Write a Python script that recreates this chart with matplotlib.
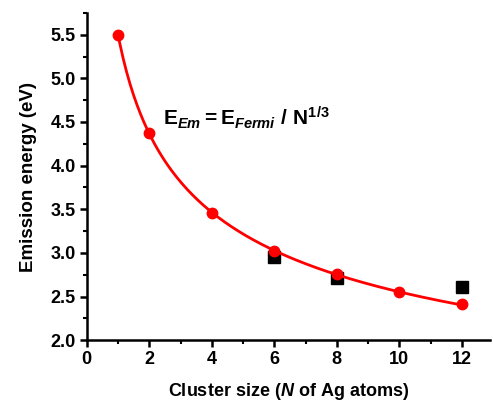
import numpy as np
import matplotlib
matplotlib.use("Agg")
import matplotlib.pyplot as plt
from matplotlib.ticker import MultipleLocator

# data
n_atoms = [1, 2, 4, 6, 8, 10, 12]
e_emission = [5.50, 4.37, 3.46, 3.02, 2.76, 2.55, 2.41]

n_exp = [6, 8, 12]
e_exp = [2.95, 2.71, 2.61]

e_fermi = 5.5  # fit parameter of E_Em = E_Fermi / N^(1/3)

plt.rcParams['font.family'] = ['Liberation Sans', 'DejaVu Sans']
plt.rcParams['font.weight'] = 'bold'
plt.rcParams['mathtext.fontset'] = 'custom'
plt.rcParams['mathtext.rm'] = 'Liberation Sans:bold'
plt.rcParams['mathtext.it'] = 'Liberation Sans:italic:bold'
plt.rcParams['mathtext.bf'] = 'Liberation Sans:bold'

fig = plt.figure(figsize=(4.93, 4.03), dpi=100)
ax = fig.add_axes([0.176, 0.156, 0.818, 0.812])

# fitted curve
nn = np.linspace(1, 12, 200)
ax.plot(nn, e_fermi / nn ** (1 / 3), color='#ff0000', lw=2, zorder=2)
ax.plot(n_atoms, e_emission, 'o', color='#ff0000', ms=7.5, zorder=3)
ax.plot(n_exp, e_exp, 's', color='black', ms=8, zorder=1)

ax.text(2.45, 4.46, r'$\mathrm{E}_{\mathit{Em}}\mathrm{ = E}_{\mathit{Fermi}}\mathrm{\ /\ N}^{\mathrm{1/3}}$',
        fontsize=15)

ax.set_xlim(0, 12.9)
ax.set_ylim(2.0, 5.75)
ax.xaxis.set_minor_locator(MultipleLocator(1))
ax.yaxis.set_minor_locator(MultipleLocator(0.25))
ax.set_xticks(range(0, 13, 2))
ax.set_yticks(np.arange(2.0, 5.51, 0.5))
ax.yaxis.set_major_formatter(matplotlib.ticker.FormatStrFormatter('%.1f'))

for s in ['top', 'right']:
    ax.spines[s].set_visible(False)
for s in ['left', 'bottom']:
    ax.spines[s].set_linewidth(1.8)
ax.tick_params(which='major', direction='out', length=5, width=1.8, labelsize=13, pad=3)
ax.tick_params(which='minor', direction='out', length=3, width=1.5)

ax.set_ylabel('Emission energy (eV)', fontsize=13.5, fontweight='bold', labelpad=10)
ax.set_xlabel(r'Cluster size $\mathit{(N}$ of Ag atoms)', fontsize=13,
              fontweight='bold', labelpad=9)

fig.savefig('out.png', dpi=100)
